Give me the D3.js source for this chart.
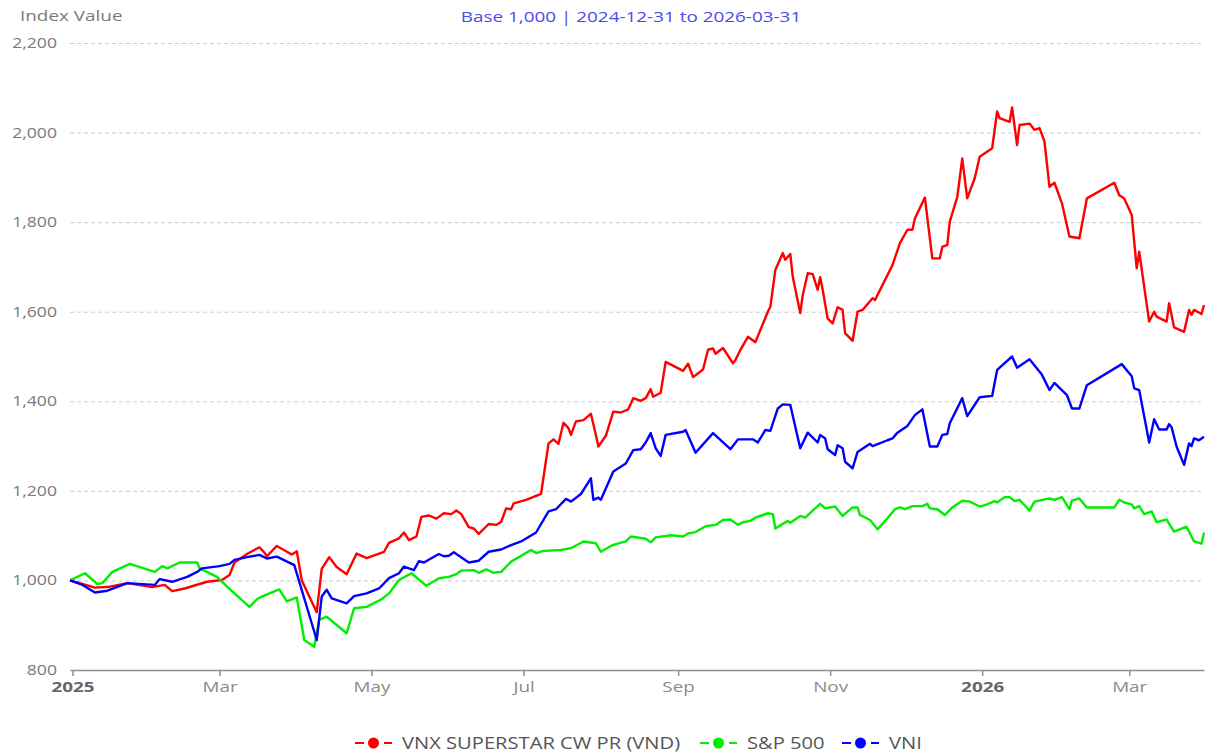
<!DOCTYPE html>
<html>
<head>
<meta charset="utf-8">
<script src="https://cdn.jsdelivr.net/npm/d3@7"></script>
<style>
  body { margin: 0; background: #fff; }
  text { font-family: "Open Sans", sans-serif; }
</style>
</head>
<body>
<div id="wrapper"></div>
<script>
// series: [date, index value]
const vnxData = [
  ["2024-12-31",1000],["2025-01-05",992],["2025-01-10",984],["2025-01-16",986],["2025-01-23",994],["2025-02-02",985],["2025-02-07",990],["2025-02-10",976],["2025-02-15",982],["2025-02-24",997],["2025-03-02",1001],["2025-03-05",1012],["2025-03-07",1040],["2025-03-12",1059],["2025-03-17",1074],["2025-03-19",1062],["2025-03-20",1054],["2025-03-24",1077],["2025-03-30",1058],["2025-04-01",1065],["2025-04-03",1000],["2025-04-09",929],["2025-04-11",1026],["2025-04-14",1052],["2025-04-17",1030],["2025-04-21",1014],["2025-04-25",1060],["2025-04-29",1050],["2025-05-06",1064],["2025-05-08",1084],["2025-05-12",1094],["2025-05-14",1107],["2025-05-16",1090],["2025-05-19",1098],["2025-05-21",1142],["2025-05-24",1145],["2025-05-27",1138],["2025-05-30",1150],["2025-06-02",1148],["2025-06-04",1156],["2025-06-06",1148],["2025-06-09",1119],["2025-06-11",1116],["2025-06-13",1104],["2025-06-17",1126],["2025-06-20",1124],["2025-06-22",1131],["2025-06-24",1161],["2025-06-26",1159],["2025-06-27",1172],["2025-07-02",1180],["2025-07-07",1191],["2025-07-08",1193],["2025-07-11",1306],["2025-07-13",1315],["2025-07-15",1305],["2025-07-17",1352],["2025-07-19",1340],["2025-07-20",1325],["2025-07-22",1355],["2025-07-25",1358],["2025-07-28",1372],["2025-07-30",1325],["2025-07-31",1299],["2025-08-03",1323],["2025-08-06",1377],["2025-08-09",1375],["2025-08-12",1382],["2025-08-14",1407],["2025-08-17",1401],["2025-08-19",1407],["2025-08-21",1427],["2025-08-22",1410],["2025-08-25",1419],["2025-08-27",1488],["2025-09-03",1468],["2025-09-05",1484],["2025-09-07",1454],["2025-09-11",1471],["2025-09-13",1515],["2025-09-15",1518],["2025-09-16",1506],["2025-09-19",1519],["2025-09-23",1485],["2025-09-24",1492],["2025-09-26",1515],["2025-09-29",1544],["2025-10-02",1532],["2025-10-07",1600],["2025-10-08",1611],["2025-10-10",1693],["2025-10-13",1731],["2025-10-14",1716],["2025-10-16",1729],["2025-10-17",1678],["2025-10-20",1597],["2025-10-21",1637],["2025-10-23",1686],["2025-10-25",1684],["2025-10-27",1649],["2025-10-28",1677],["2025-10-29",1649],["2025-10-31",1585],["2025-11-02",1574],["2025-11-04",1610],["2025-11-06",1604],["2025-11-07",1552],["2025-11-10",1535],["2025-11-12",1600],["2025-11-14",1604],["2025-11-18",1630],["2025-11-19",1626],["2025-11-26",1704],["2025-11-29",1753],["2025-12-02",1783],["2025-12-04",1783],["2025-12-05",1808],["2025-12-09",1855],["2025-12-12",1719],["2025-12-15",1719],["2025-12-16",1745],["2025-12-18",1749],["2025-12-19",1801],["2025-12-22",1856],["2025-12-24",1942],["2025-12-26",1853],["2025-12-29",1898],["2025-12-31",1946],["2026-01-05",1965],["2026-01-07",2047],["2026-01-08",2032],["2026-01-12",2024],["2026-01-13",2056],["2026-01-15",1972],["2026-01-16",2017],["2026-01-20",2020],["2026-01-22",2006],["2026-01-24",2010],["2026-01-26",1980],["2026-01-28",1879],["2026-01-30",1888],["2026-02-02",1842],["2026-02-05",1768],["2026-02-09",1764],["2026-02-12",1853],["2026-02-23",1888],["2026-02-25",1860],["2026-02-27",1853],["2026-03-02",1816],["2026-03-04",1697],["2026-03-05",1734],["2026-03-09",1578],["2026-03-11",1600],["2026-03-12",1589],["2026-03-16",1578],["2026-03-17",1619],["2026-03-19",1565],["2026-03-23",1555],["2026-03-25",1604],["2026-03-26",1593],["2026-03-27",1604],["2026-03-30",1595],["2026-03-31",1615]
]

const spxData = [
  ["2024-12-31",1000],["2025-01-06",1016],["2025-01-11",992],["2025-01-13",994],["2025-01-17",1019],["2025-01-24",1037],["2025-02-03",1019],["2025-02-06",1032],["2025-02-08",1027],["2025-02-13",1040],["2025-02-20",1040],["2025-02-21",1027],["2025-02-28",1008],["2025-03-04",986],["2025-03-13",941],["2025-03-16",958],["2025-03-18",964],["2025-03-21",971],["2025-03-25",980],["2025-03-28",953],["2025-04-01",962],["2025-04-04",867],["2025-04-08",852],["2025-04-10",912],["2025-04-13",919],["2025-04-21",882],["2025-04-24",938],["2025-04-29",941],["2025-05-05",958],["2025-05-08",971],["2025-05-12",1001],["2025-05-17",1016],["2025-05-23",988],["2025-05-28",1005],["2025-06-01",1008],["2025-06-04",1014],["2025-06-06",1022],["2025-06-11",1023],["2025-06-13",1017],["2025-06-16",1025],["2025-06-19",1017],["2025-06-22",1019],["2025-06-26",1042],["2025-07-04",1068],["2025-07-06",1061],["2025-07-09",1066],["2025-07-16",1068],["2025-07-20",1072],["2025-07-25",1087],["2025-07-30",1083],["2025-08-01",1064],["2025-08-05",1077],["2025-08-07",1081],["2025-08-11",1087],["2025-08-13",1098],["2025-08-19",1093],["2025-08-21",1085],["2025-08-23",1096],["2025-08-29",1101],["2025-09-03",1098],["2025-09-05",1105],["2025-09-08",1108],["2025-09-12",1121],["2025-09-16",1124],["2025-09-19",1135],["2025-09-22",1136],["2025-09-25",1124],["2025-09-27",1130],["2025-09-30",1133],["2025-10-02",1140],["2025-10-07",1150],["2025-10-09",1148],["2025-10-10",1116],["2025-10-15",1133],["2025-10-16",1129],["2025-10-20",1144],["2025-10-22",1140],["2025-10-25",1156],["2025-10-28",1171],["2025-10-30",1161],["2025-11-03",1165],["2025-11-06",1144],["2025-11-10",1163],["2025-11-12",1163],["2025-11-13",1146],["2025-11-17",1135],["2025-11-20",1114],["2025-11-24",1139],["2025-11-27",1159],["2025-11-29",1163],["2025-12-01",1159],["2025-12-04",1166],["2025-12-08",1166],["2025-12-10",1171],["2025-12-11",1161],["2025-12-14",1159],["2025-12-17",1146],["2025-12-20",1163],["2025-12-24",1178],["2025-12-27",1176],["2025-12-31",1165],["2026-01-03",1170],["2026-01-06",1177],["2026-01-07",1174],["2026-01-10",1186],["2026-01-12",1186],["2026-01-14",1177],["2026-01-16",1180],["2026-01-20",1156],["2026-01-22",1176],["2026-01-27",1182],["2026-01-28",1183],["2026-01-30",1180],["2026-02-02",1186],["2026-02-05",1159],["2026-02-06",1178],["2026-02-09",1183],["2026-02-12",1163],["2026-02-23",1163],["2026-02-25",1180],["2026-02-27",1174],["2026-03-02",1170],["2026-03-03",1161],["2026-03-05",1166],["2026-03-07",1148],["2026-03-10",1154],["2026-03-12",1130],["2026-03-16",1136],["2026-03-19",1109],["2026-03-24",1120],["2026-03-27",1087],["2026-03-30",1082],["2026-03-31",1107]
]

const vniData = [
  ["2024-12-31",1000],["2025-01-05",990],["2025-01-10",973],["2025-01-15",977],["2025-01-23",994],["2025-02-03",990],["2025-02-05",1003],["2025-02-10",997],["2025-02-16",1008],["2025-02-20",1019],["2025-02-22",1027],["2025-03-01",1032],["2025-03-05",1037],["2025-03-07",1046],["2025-03-12",1052],["2025-03-17",1057],["2025-03-20",1049],["2025-03-24",1053],["2025-03-31",1034],["2025-04-09",867],["2025-04-11",964],["2025-04-13",979],["2025-04-15",960],["2025-04-21",949],["2025-04-24",965],["2025-04-29",971],["2025-05-04",982],["2025-05-08",1005],["2025-05-12",1016],["2025-05-14",1031],["2025-05-18",1023],["2025-05-20",1043],["2025-05-22",1040],["2025-05-28",1059],["2025-05-30",1054],["2025-06-01",1055],["2025-06-03",1063],["2025-06-09",1040],["2025-06-13",1044],["2025-06-17",1064],["2025-06-22",1069],["2025-06-26",1079],["2025-06-30",1087],["2025-07-06",1107],["2025-07-11",1154],["2025-07-14",1159],["2025-07-18",1182],["2025-07-20",1176],["2025-07-24",1193],["2025-07-28",1228],["2025-07-29",1180],["2025-07-31",1185],["2025-08-01",1180],["2025-08-06",1243],["2025-08-11",1261],["2025-08-14",1291],["2025-08-17",1293],["2025-08-19",1308],["2025-08-21",1329],["2025-08-23",1295],["2025-08-25",1278],["2025-08-27",1325],["2025-09-03",1332],["2025-09-04",1336],["2025-09-08",1285],["2025-09-15",1329],["2025-09-22",1293],["2025-09-25",1315],["2025-10-01",1315],["2025-10-03",1308],["2025-10-06",1336],["2025-10-08",1334],["2025-10-11",1384],["2025-10-13",1393],["2025-10-16",1392],["2025-10-20",1295],["2025-10-23",1330],["2025-10-27",1308],["2025-10-28",1325],["2025-10-30",1317],["2025-10-31",1293],["2025-11-03",1280],["2025-11-04",1302],["2025-11-06",1295],["2025-11-07",1265],["2025-11-10",1250],["2025-11-12",1287],["2025-11-17",1305],["2025-11-18",1300],["2025-11-24",1313],["2025-11-26",1317],["2025-11-28",1330],["2025-12-02",1345],["2025-12-05",1369],["2025-12-08",1382],["2025-12-11",1299],["2025-12-14",1299],["2025-12-16",1325],["2025-12-18",1327],["2025-12-19",1351],["2025-12-24",1407],["2025-12-26",1367],["2025-12-31",1409],["2026-01-05",1412],["2026-01-07",1470],["2026-01-13",1500],["2026-01-15",1475],["2026-01-20",1494],["2026-01-25",1459],["2026-01-28",1425],["2026-01-30",1441],["2026-02-04",1414],["2026-02-06",1384],["2026-02-09",1384],["2026-02-12",1436],["2026-02-26",1483],["2026-03-02",1456],["2026-03-03",1429],["2026-03-05",1425],["2026-03-09",1308],["2026-03-11",1360],["2026-03-13",1337],["2026-03-16",1337],["2026-03-17",1349],["2026-03-18",1342],["2026-03-20",1299],["2026-03-23",1258],["2026-03-25",1306],["2026-03-26",1300],["2026-03-27",1317],["2026-03-29",1313],["2026-03-31",1321]
]

const seriesNames = ["VNX SUPERSTAR CW PR (VND)", "S&P 500", "VNI"]
const seriesColors = ["#ff0000", "#00ee00", "#0000ff"]

const yTicks = [800, 1000, 1200, 1400, 1600, 1800, 2000, 2200]
const xTickDates = ["2025-01-01", "2025-03-01", "2025-05-01", "2025-07-01", "2025-09-01", "2025-11-01", "2026-01-01", "2026-03-01"]
const xTickLabels = ["2025", "Mar", "May", "Jul", "Sep", "Nov", "2026", "Mar"]
const dateRange = ["2024-12-31", "2026-03-31"]

function drawChart() {

  const parseDate = d3.utcParse("%Y-%m-%d")
  const xAccessor = d => parseDate(d[0])
  const yAccessor = d => d[1]

  // the source picture has wide, horizontally stretched lettering
  const stretch = 1.26

  // Set Bounds
  let dms = {
    width: 1208,
    height: 755,
    margin: { top: 43, right: 4, bottom: 85, left: 70 },
  }
  dms.boundedWidth = dms.width - dms.margin.left - dms.margin.right
  dms.boundedHeight = dms.height - dms.margin.top - dms.margin.bottom

  const wrapper = d3.select("#wrapper")
    .append("svg")
    .attr("width", dms.width)
    .attr("height", dms.height)
    .style("display", "block")

  wrapper.append("rect")
    .attr("width", dms.width)
    .attr("height", dms.height)
    .attr("fill", "#fff")

  const bounds = wrapper.append("g")
    .attr("transform", `translate(${dms.margin.left},${dms.margin.top})`)

  // Scales
  const xScale = d3.scaleUtc()
    .domain(dateRange.map(parseDate))
    .range([0, dms.boundedWidth])

  const yScale = d3.scaleLinear()
    .domain([800, 2200])
    .range([dms.boundedHeight, 0])

  // y axis + dashed grid
  const yAxisGenerator = d3.axisLeft(yScale)
    .tickValues(yTicks)
    .tickSize(-dms.boundedWidth)
    .tickPadding(13)
    .tickFormat(d3.format(","))

  const yAxis = bounds.append("g").call(yAxisGenerator)
  yAxis.select(".domain").remove()
  yAxis.selectAll(".tick line")
    .attr("stroke", "#cccccc")
    .attr("stroke-dasharray", "4,3")
  yAxis.selectAll(".tick text")
    .attr("x", -13 / stretch)
    .attr("transform", `scale(${stretch},1)`)
    .attr("fill", "#7a7a7a")
    .style("font-size", "14px")

  // x axis
  const xAxisGenerator = d3.axisBottom(xScale)
    .tickValues(xTickDates.map(parseDate))
    .tickSizeInner(6)
    .tickSizeOuter(0)
    .tickPadding(5)
    .tickFormat((d, i) => xTickLabels[i])

  const xAxis = bounds.append("g")
    .attr("transform", `translate(0,${dms.boundedHeight})`)
    .call(xAxisGenerator)
  xAxis.select(".domain").attr("stroke", "#8a8e96").attr("stroke-width", 1.5)
  xAxis.selectAll(".tick line").attr("stroke", "#8a8e96").attr("stroke-width", 1.5)
  xAxis.selectAll(".tick text")
    .attr("transform", `scale(${stretch},1)`)
    .attr("fill", (d, i) => xTickLabels[i].length == 4 ? "#666" : "#8a8a8a")
    .style("font-weight", (d, i) => xTickLabels[i].length == 4 ? "bold" : "normal")
    .style("font-size", "15px")

  // lines
  const lineGenerator = d3.line()
    .x(d => xScale(xAccessor(d)))
    .y(d => yScale(yAccessor(d)))

  const allSeries = [vnxData, spxData, vniData]
  bounds.append("g")
    .selectAll("path")
    .data(allSeries)
    .join("path")
    .attr("d", lineGenerator)
    .attr("fill", "none")
    .attr("stroke", (d, i) => seriesColors[i])
    .attr("stroke-width", 2.4)
    .attr("stroke-linejoin", "round")

  // labels
  wrapper.append("text")
    .attr("transform", `translate(20,21) scale(${stretch},1)`)
    .attr("fill", "#7a7a7a")
    .style("font-size", "15px")
    .text("Index Value")

  wrapper.append("text")
    .attr("transform", `translate(631,22) scale(${stretch},1)`)
    .attr("text-anchor", "middle")
    .attr("fill", "#4a4af0")
    .style("font-size", "15px")
    .text("Base 1,000 | " + dateRange[0] + " to " + dateRange[1])

  // legend
  const legendX = [355, 700, 842]
  const legend = wrapper.append("g")
    .selectAll("g")
    .data(seriesNames)
    .join("g")
    .attr("transform", (d, i) => `translate(${legendX[i]},743)`)

  legend.append("line")
    .attr("x1", 0).attr("x2", 37)
    .attr("stroke", (d, i) => seriesColors[i])
    .attr("stroke-width", 2)
    .attr("stroke-dasharray", "9,20,9")
  legend.append("circle")
    .attr("cx", 18.5)
    .attr("r", 5.5)
    .attr("fill", (d, i) => seriesColors[i])
  legend.append("text")
    .attr("transform", `translate(47,0) scale(${stretch},1)`)
    .attr("dy", "0.35em")
    .attr("fill", "#555")
    .style("font-size", "16px")
    .text(d => d)
}

drawChart()
</script>
</body>
</html>
